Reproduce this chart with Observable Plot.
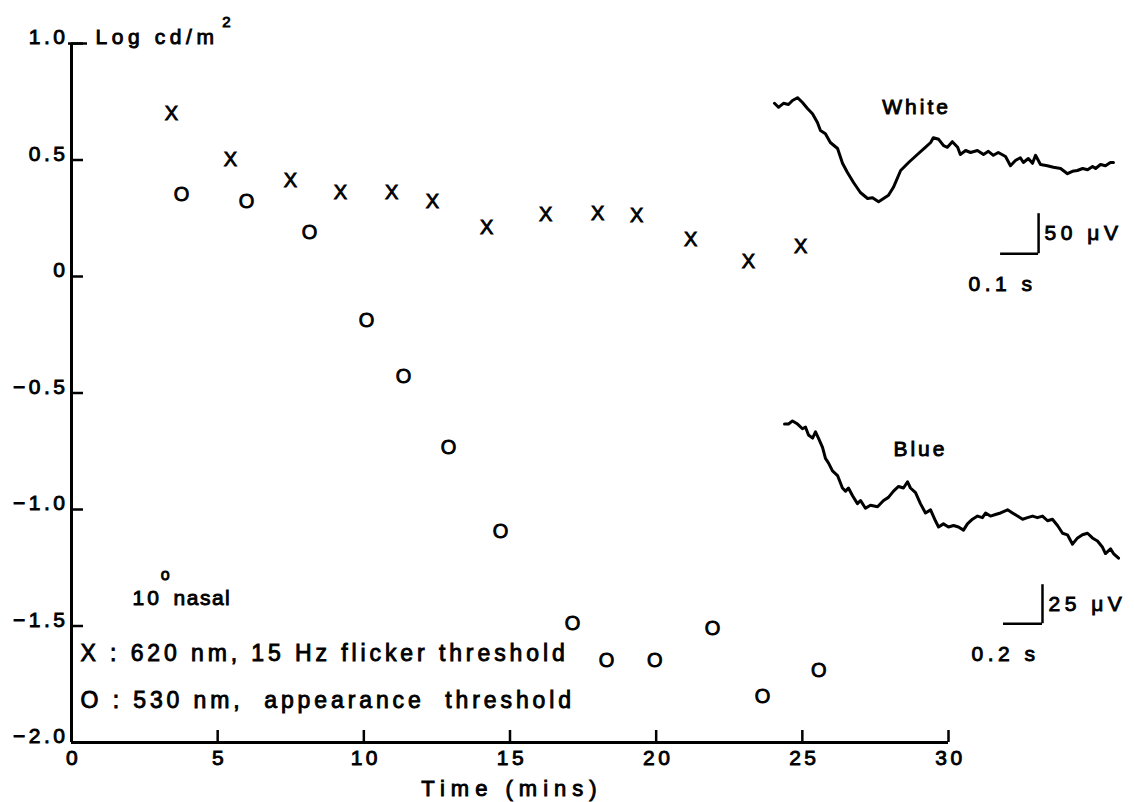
<!DOCTYPE html>
<html>
<head>
<meta charset="utf-8">
<script src="https://cdn.jsdelivr.net/npm/d3@7"></script>
<script src="https://cdn.jsdelivr.net/npm/@observablehq/plot@0.6"></script>
<style>
  body { margin: 0; background: #fff; }
  #chart { position: relative; width: 1134px; height: 802px; background: #fff; }
  #chart svg { position: absolute; left: 0; top: 0; overflow: visible; }
  #chart svg text {
    font-family: "Liberation Sans", Arial, Helvetica, sans-serif;
    fill: #000;
    stroke: #000;
    stroke-width: 0.9px;
    letter-spacing: 3.5px;
  }
  #chart g[aria-description="unit"] text { letter-spacing: 4.6px; }
  #chart g[aria-description="legend"] text { letter-spacing: 3.9px; }
  #chart g[aria-description="time label"] text { letter-spacing: 6px; }
  #chart g[aria-description="scale label"] text { letter-spacing: 4.5px; }
  #chart g[aria-description="trace label"] text { letter-spacing: 3px; }
  #chart g[aria-description="place label"] text { letter-spacing: 1.5px; }
  #chart g[aria-description="marker"] text { letter-spacing: 0; }
</style>
</head>
<body>
<div id="chart"></div>
<script>
// Dark adaptation, 10° nasal: thresholds (log cd/m²) against time in the dark (min)
const flickerTime = [3.42, 5.44, 7.49, 9.20, 10.95, 12.35, 14.20, 16.22, 18.00, 19.33, 21.18, 23.16, 24.94];
const flickerLog  = [0.70, 0.50, 0.41, 0.36, 0.36, 0.32, 0.21, 0.265, 0.27, 0.26, 0.16, 0.065, 0.13];
const appearTime  = [3.76, 5.99, 8.14, 10.09, 11.36, 12.90, 14.68, 17.14, 18.30, 19.95, 21.93, 23.64, 25.56];
const appearLog   = [0.35, 0.32, 0.19, -0.19, -0.43, -0.735, -1.095, -1.49, -1.65, -1.65, -1.51, -1.805, -1.69];

const xTicks = [0, 5, 10, 15, 20, 25, 30];
const yTicks = [1.0, 0.5, 0, -0.5, -1.0, -1.5, -2.0];
const yTickLabels = ["1.0", "0.5", "0", "\u22120.5", "\u22121.0", "\u22121.5", "\u22122.0"];

// ERG response to a white flash: time (ms) and potential (µV)
const whiteMs = [0, 10.5, 23.7, 36.8, 47.4, 60.5, 73.7, 86.8, 100, 113, 121, 134, 147, 166, 179, 192, 208, 226, 245, 258,
  274, 287, 300, 313, 332, 353, 376, 397, 411, 418, 432, 445, 455, 468, 482, 489, 503, 516, 534, 550,
  563, 576, 589, 608, 621, 634, 647, 655, 668, 679, 687, 700, 718, 734, 753, 771, 784, 797, 811, 824,
  837, 845, 858, 871, 884, 892];
const whiteUv = [59, 54, 59, 57.5, 62.5, 66, 60, 52.5, 46, 35, 25, 21, 10, 2.5, -16, -27.5, -40, -52.5, -60, -59,
  -64, -60, -56, -46, -25, -15, -5, 4, 10, 16, 14, 6, 4, 11, 4, -5, 0, -2.5, 0, -5,
  -1, -6, -2.5, -7.5, -19, -12.5, -9, -15, -10, -16, -6, -17.5, -19, -21, -22.5, -29, -26, -25, -22.5, -24,
  -20, -22.5, -17.5, -19, -15, -15];

// ERG response to a blue flash: time (ms) and potential (µV)
const blueMs = [0, 20.5, 41, 67, 92, 108, 123, 144, 159, 174, 195, 210, 226, 246, 272, 297, 313, 328, 349, 374,
  390, 415, 441, 477, 508, 533, 559, 585, 610, 631, 646, 672, 697, 723, 749, 774, 790, 815, 841, 867,
  892, 918, 938, 964, 990, 1015, 1031, 1056, 1082, 1108, 1144, 1169, 1195, 1221, 1246, 1272, 1297, 1323, 1349, 1374,
  1400, 1426, 1451, 1477, 1503, 1528, 1554, 1579, 1605, 1631, 1646, 1672, 1687, 1713];
const blueUv = [49, 49, 51, 49, 46, 47, 42, 40, 44, 40, 34, 27, 24, 19, 16, 8, 6, 8, 3, -2,
  0, -5, -3, -4, 0, 2, 6, 9, 8, 12, 8, 5, -2, -8, -6, -13, -17, -15, -17, -16,
  -17, -19, -15, -12, -10, -11, -8, -10, -9, -8, -6, -8, -10, -12, -11, -10, -11, -10, -13, -12,
  -16, -21, -22, -28, -24, -22, -21, -24, -26, -30, -34, -31, -34, -37];

const flicker = flickerTime.map((t, i) => ({t, v: flickerLog[i]}));
const appear = appearTime.map((t, i) => ({t, v: appearLog[i]}));
const whiteTrace = whiteMs.map((t, i) => ({t, v: whiteUv[i]}));
const blueTrace = blueMs.map((t, i) => ({t, v: blueUv[i]}));

const W = 1134, H = 802;
const mL = 71, mR = 186, mT = 43, mB = 60;
const frameW = W - mL - mR, frameH = H - mT - mB;
const ink = "#000";

const main = Plot.plot({
  width: W,
  height: H,
  marginLeft: mL, marginRight: mR, marginTop: mT, marginBottom: mB,
  x: {domain: [0, 30]},
  y: {domain: [-2, 1]},
  style: {background: "transparent", color: ink},
  marks: [
    // axes
    Plot.ruleX([0], {y1: -2, y2: 1, strokeWidth: 3, stroke: ink}),
    Plot.ruleY([-2], {x1: 0, x2: 30, strokeWidth: 3, stroke: ink}),
    Plot.tickY(yTicks, {y: d => d, insetRight: frameW - 12, strokeWidth: 2.5, stroke: ink}),
    Plot.tickY([1], {y: d => d, insetLeft: -3, insetRight: frameW - 16, strokeWidth: 2.5, stroke: ink}),
    Plot.tickX(xTicks, {x: d => d, insetTop: frameH - 12, strokeWidth: 2.5, stroke: ink}),
    Plot.axisY(yTicks, {tickSize: 0, tickPadding: 3, dy: -6, fontSize: 21, label: null,
      tickFormat: d => yTickLabels[yTicks.indexOf(d)]}),
    Plot.axisX(xTicks, {tickSize: 0, tickPadding: 8, dx: 2, fontSize: 21, label: null}),
    Plot.text(["Time (mins)"], {x: 15, y: -2, dy: 46, dx: 2, fontSize: 22, ariaDescription: "time label"}),
    Plot.text(["Log cd/m"], {x: 0.82, y: 1.026, textAnchor: "start", fontSize: 21, ariaDescription: "unit"}),
    Plot.text(["2"], {x: 5.16, y: 1.09, textAnchor: "start", fontSize: 15, ariaDescription: "marker"}),

    // thresholds
    Plot.text(flicker, {x: "t", y: "v", text: () => "X", fontSize: 20, ariaDescription: "marker"}),
    Plot.text(appear, {x: "t", y: "v", text: () => "O", fontSize: 20, ariaDescription: "marker"}),

    // annotations
    Plot.text(["10"], {x: 2.09, y: -1.38, textAnchor: "start", fontSize: 21, ariaDescription: "trace label"}),
    Plot.text(["o"], {x: 3.05, y: -1.281, textAnchor: "start", fontSize: 16, ariaDescription: "marker"}),
    Plot.text(["nasal"], {x: 3.49, y: -1.38, textAnchor: "start", fontSize: 21, ariaDescription: "place label"}),
    Plot.text(["X : 620 nm, 15 Hz flicker threshold"], {x: 0.31, y: -1.62, textAnchor: "start",
      fontSize: 23, ariaDescription: "legend"}),
    Plot.text(["O : 530 nm,\u00a0 appearance\u00a0 threshold"], {x: 0.31, y: -1.822, textAnchor: "start",
      fontSize: 23, ariaDescription: "legend"})
  ]
});

// Inset for an ERG trace with its own time/voltage scale and a calibration bar
function ergInset({trace, left, top, width, height, xDomain, yDomain, label, labelAt, barMs, barUv, barT, barV}) {
  const svg = Plot.plot({
    width, height,
    margin: 0,
    x: {domain: xDomain, axis: null},
    y: {domain: yDomain, axis: null},
    style: {background: "transparent", color: ink},
    marks: [
      Plot.line(trace, {x: "t", y: "v", stroke: ink, strokeWidth: 3, strokeLinejoin: "round"}),
      Plot.ruleX([barT], {y1: barV, y2: barV + barUv, stroke: ink, strokeWidth: 2.5}),
      Plot.ruleY([barV], {x1: barT - barMs, x2: barT, stroke: ink, strokeWidth: 2.5}),
      Plot.text([`${barUv} μV`], {x: barT, y: barV + barUv / 2, dx: 6, textAnchor: "start",
        fontSize: 21, ariaDescription: "scale label"}),
      Plot.text([`${barMs / 1000} s`], {x: barT - barMs, y: barV, dy: 31, dx: 2, textAnchor: "middle",
        fontSize: 21, ariaDescription: "scale label"}),
      Plot.text([label], {x: labelAt[0], y: labelAt[1], fontSize: 21, ariaDescription: "trace label"})
    ]
  });
  svg.style.left = left + "px";
  svg.style.top = top + "px";
  return svg;
}

const white = ergInset({
  trace: whiteTrace, left: 760, top: 80, width: 374, height: 220,
  xDomain: [-36.8, 947.4], yDomain: [-187.5, 87.5],
  label: "White", labelAt: [374, 54],
  barMs: 100, barUv: 50, barT: 695, barV: -129
});

const blue = ergInset({
  trace: blueTrace, left: 760, top: 400, width: 374, height: 280,
  xDomain: [-123.1, 1794.9], yDomain: [-115.4, 64.1],
  label: "Blue", labelAt: [697, 33],
  barMs: 200, barUv: 25, barT: 1323, barV: -79
});

const root = document.getElementById("chart");
root.append(main, white, blue);
</script>
</body>
</html>
